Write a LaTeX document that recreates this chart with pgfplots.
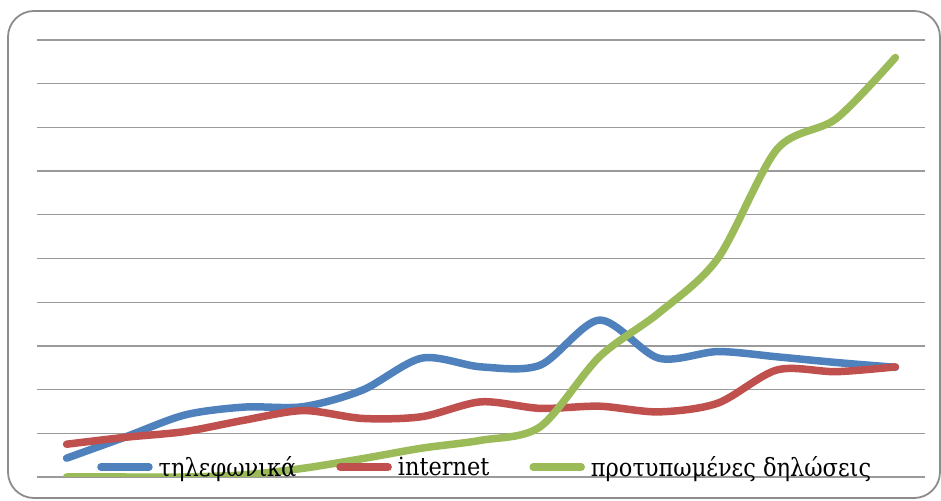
\documentclass[border=0pt]{standalone}
\usepackage{fontspec}
\setmainfont{DejaVu Serif Condensed}
\usepackage{pgfplots}
\pgfplotsset{compat=1.18}
\usepackage{pgfplotstable}
\definecolor{sblue}{HTML}{4F81BD}
\definecolor{sred}{HTML}{C0504D}
\definecolor{sgreen}{HTML}{9BBB59}
\definecolor{gridc}{HTML}{9A9A9A}
\definecolor{framec}{HTML}{8C8C8C}
\pgfplotstableread{
x blue red green
0  0.43 0.75 0.00
1  0.92 0.91 0.00
2  1.42 1.04 0.00
3  1.60 1.30 0.05
4  1.61 1.52 0.20
5  1.99 1.34 0.42
6  2.72 1.38 0.66
7  2.52 1.72 0.84
8  2.56 1.57 1.15
9  3.59 1.62 2.75
10 2.72 1.49 3.75
11 2.87 1.69 5.00
12 2.75 2.45 7.50
13 2.62 2.41 8.20
14 2.51 2.52 9.60
}\data
\begin{document}
\begin{tikzpicture}
\path[use as bounding box] (-37bp,-24bp) rectangle (904bp,477bp);
\draw[framec, line width=1.8bp, rounded corners=26bp] (-29bp,-21bp) rectangle (903bp,466bp);
\begin{axis}[
  at={(0,0)}, anchor=south west,
  scale only axis, width=888bp, height=437bp,
  xmin=-0.5, xmax=14.5, ymin=0, ymax=10,
  axis line style={draw=none},
  xtick=\empty, ytick={0,1,...,10}, yticklabels={},
  major tick length=0pt,
  ymajorgrids, grid style={gridc, line width=1.3bp},
  legend columns=3,
  legend cell align=left,
  legend style={draw=none, fill=none, inner sep=0pt,
    at={(0.0676,0.0229)}, anchor=west,
    font=\fontsize{25bp}{27bp}\selectfont,
    nodes={inner sep=0pt},
    /tikz/every odd column/.append style={column sep=6bp},
    /tikz/every even column/.append style={column sep=40bp}},
  legend image code/.code={\draw[#1, line cap=round] (0bp,0bp)--(48bp,0bp);},
  every axis plot/.append style={line width=7.5bp, line cap=round, smooth, no markers},
]
\addplot[sblue] table[x=x, y=blue] {\data};
\addlegendentry{τηλεφωνικά}
\addplot[sred] table[x=x, y=red] {\data};
\addlegendentry{internet}
\addplot[sgreen] table[x=x, y=green] {\data};
\addlegendentry{προτυπωμένες δηλώσεις}
\end{axis}
\end{tikzpicture}
\end{document}
